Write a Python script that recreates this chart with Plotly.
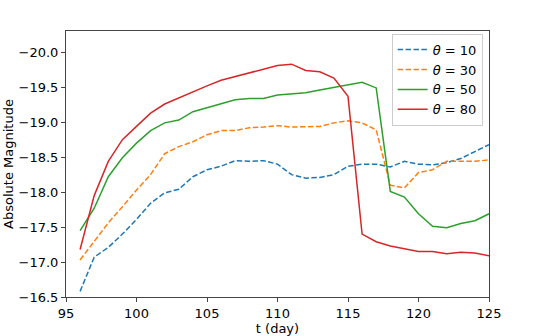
import plotly.graph_objects as go

days = list(range(96, 126))

mag_theta10 = [-16.58, -17.07, -17.21, -17.40, -17.61, -17.84, -17.99, -18.04, -18.22, -18.32,
               -18.37, -18.45, -18.44, -18.45, -18.40, -18.25, -18.20, -18.21, -18.25, -18.37,
               -18.40, -18.40, -18.36, -18.44, -18.40, -18.39, -18.42, -18.48, -18.58, -18.68]
mag_theta30 = [-17.03, -17.29, -17.56, -17.79, -18.03, -18.25, -18.55, -18.65, -18.72, -18.82,
               -18.88, -18.88, -18.92, -18.93, -18.95, -18.93, -18.94, -18.94, -18.99, -19.02,
               -18.99, -18.89, -18.10, -18.06, -18.28, -18.32, -18.44, -18.44, -18.44, -18.46]
mag_theta50 = [-17.45, -17.77, -18.22, -18.49, -18.70, -18.88, -18.99, -19.03, -19.15, -19.21,
               -19.26, -19.32, -19.34, -19.34, -19.39, -19.41, -19.42, -19.46, -19.50, -19.53,
               -19.57, -19.49, -18.01, -17.93, -17.69, -17.51, -17.49, -17.55, -17.59, -17.69]
mag_theta80 = [-17.18, -17.95, -18.44, -18.75, -18.94, -19.13, -19.26, -19.35, -19.43, -19.52,
               -19.60, -19.65, -19.70, -19.76, -19.81, -19.83, -19.74, -19.72, -19.63, -19.37,
               -17.40, -17.29, -17.23, -17.19, -17.15, -17.15, -17.12, -17.14, -17.13, -17.09]

series = [
    ("<i>θ</i> = 10", mag_theta10, "#1f77b4", "5.5px,2.4px"),
    ("<i>θ</i> = 30", mag_theta30, "#ff7f0e", "5.5px,2.4px"),
    ("<i>θ</i> = 50", mag_theta50, "#2ca02c", "solid"),
    ("<i>θ</i> = 80", mag_theta80, "#d62728", "solid"),
]

y_ticks = [-20.0, -19.5, -19.0, -18.5, -18.0, -17.5, -17.0, -16.5]
x_ticks = [95, 100, 105, 110, 115, 120, 125]

fig = go.Figure()
for name, vals, color, dash in series:
    fig.add_trace(go.Scatter(
        x=days, y=vals, mode="lines", name=name,
        line=dict(color=color, width=1.5, dash=dash),
    ))

axis_common = dict(
    showgrid=False, zeroline=False, automargin=False,
    showline=True, linecolor="#444", linewidth=1, mirror=True,
    ticks="outside", ticklen=4, tickwidth=1, tickcolor="#444",
    tickfont=dict(size=13, color="black"),
)

fig.update_layout(
    width=544, height=336,
    margin=dict(l=66, r=55, t=31, b=39),
    paper_bgcolor="white", plot_bgcolor="white",
    font=dict(family="DejaVu Sans", color="black"),
    showlegend=True,
    legend=dict(
        x=0.985, y=0.99, xanchor="right", yanchor="top",
        bgcolor="rgba(255,255,255,0.8)", bordercolor="#cccccc", borderwidth=1,
        font=dict(size=13), tracegroupgap=0, itemwidth=30,
    ),
    xaxis=dict(range=[95, 125], tickvals=x_ticks,
               title=dict(text="t (day)", font=dict(size=13), standoff=1),
               **axis_common),
    yaxis=dict(range=[-16.5, -20.304], tickvals=y_ticks, tickformat=".1f",
               title=dict(text="Absolute Magnitude", font=dict(size=13), standoff=2),
               **axis_common),
)

# page default body margin would shift the figure by 8px
fig.write_html("out.html", config={"displayModeBar": False},
               post_script="document.body.style.margin = '0';")
